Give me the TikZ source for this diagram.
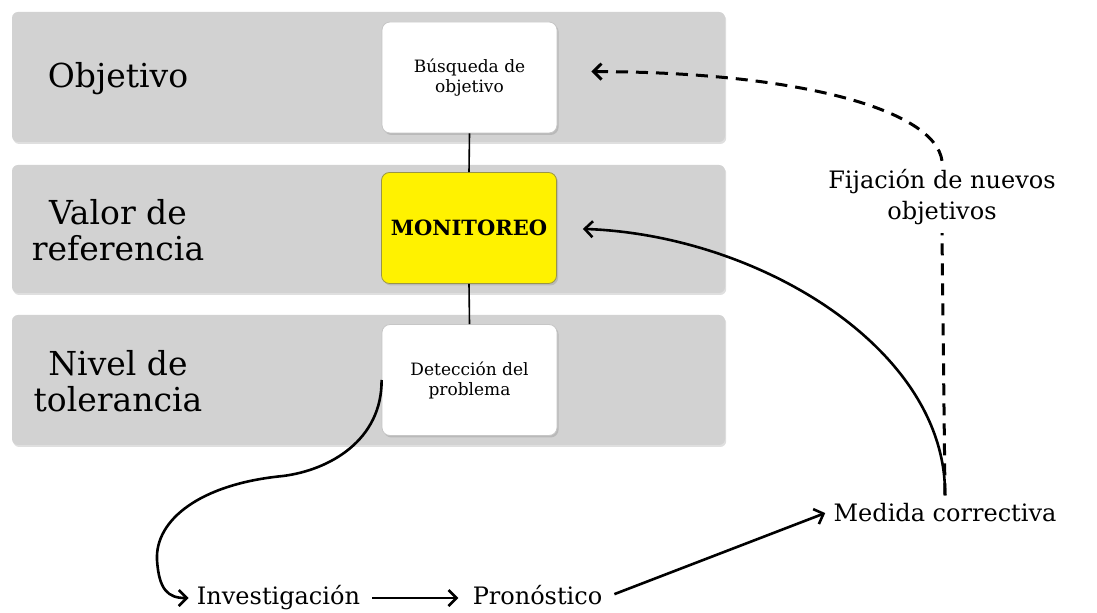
\documentclass[tikz,border=0pt]{standalone}
\usepackage{fontspec}
\setmainfont{DejaVu Serif}
\usetikzlibrary{arrows.meta,shadows}

\begin{document}
\begin{tikzpicture}[x=0.5pt,y=-0.5pt,
  band/.style={fill=gray!35,rounded corners=3pt,minimum width=356.5pt,minimum height=65pt,
    drop shadow={shadow xshift=0.6pt,shadow yshift=-1pt,opacity=0.25}},
  lvl/.style={align=center,inner sep=0pt,font=\fontsize{16.5}{18}\selectfont},
  box/.style={draw=gray!45,fill=white,rounded corners=4pt,minimum width=87.5pt,minimum height=55.5pt,
    align=center,font=\fontsize{8.5}{10}\selectfont,
    drop shadow={shadow xshift=0.8pt,shadow yshift=-1pt,opacity=0.3}},
  txt/.style={align=center,inner sep=4pt,font=\fontsize{12}{15.5}\selectfont},
  arr/.style={line width=1.3pt,-{Straight Barb[length=4pt,width=8pt]}},
]
\useasboundingbox (0,0) rectangle (1097,613);
% bands
\node[band] (b1) at (368.5,77) {};
\node[band,minimum height=64pt] (b2) at (368.5,229) {};
\node[band] (b3) at (368.5,380) {};
\node[lvl] (l1) at (118,79) {Objetivo};
\node[lvl] (l2) at (118,230) {Valor de\\referencia};
\node[lvl] (l3) at (118,381) {Nivel de\\tolerancia};
% boxes
\node[box] (busq) at (469.5,77.5) {Búsqueda de\\objetivo};
\node[box,fill=yellow,draw=yellow!55!black,font=\fontsize{10.5}{12}\selectfont\bfseries] (mon) at (469,228) {MONITOREO};
\node[box] (det) at (469.5,380) {Detección del\\problema};
\draw[line width=0.8pt] (busq.south) -- (mon.north);
\draw[line width=0.8pt] (mon.south) -- (det.north);
% cycle
\node[txt,anchor=base] (inv) at (278.5,605) {Investigación};
\node[txt,anchor=base] (pron) at (537.5,605) {Pronóstico};
\node[txt,anchor=base] (med) at (945,522) {Medida correctiva};
\node[txt] (fij) at (942,197) {Fijación de nuevos\\objetivos};
\draw[arr] (det.west) .. controls (382,440) and (330,470) .. (283,476)
  .. controls (200,484) and (155,520) .. (157,560)
  .. controls (159,590) and (168,598) .. (inv.west);
\draw[arr,shorten <=2pt,shorten >=3pt] (inv.east) -- (pron.west |- inv.east);
\draw[arr,shorten <=2pt] (pron.east) -- (med.west);
\draw[arr,shorten >=13pt] (med.north) .. controls (947,350) and (760,235) .. (mon.east);
\draw[line width=1.5pt,dash pattern=on 6pt off 4pt] (med.north) -- (fij.south);
\draw[arr,line width=1.5pt,dash pattern=on 6pt off 4pt,shorten >=17pt]
  (fij.north) .. controls (935,110) and (800,72) .. ([yshift=3pt]busq.east);
\end{tikzpicture}
\end{document}
